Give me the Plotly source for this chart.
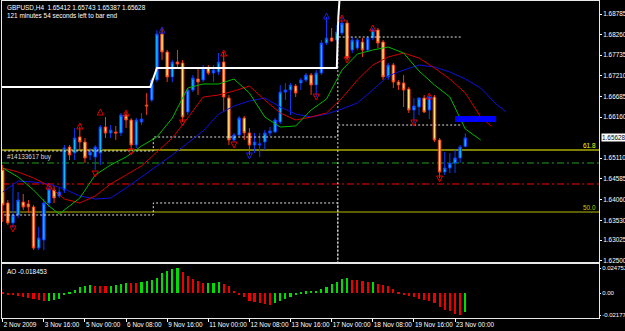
import plotly.graph_objects as go

# ---------------- data ----------------
bar_idx = list(range(91))
opens = [1.64810,1.63970,1.63460,1.63664,1.63995,1.63944,1.63868,1.62823,1.63027,1.63970,
         1.64301,1.64148,1.64301,1.65396,1.65244,1.65651,1.65524,1.65193,1.65142,1.65244,
         1.65906,1.65753,1.65779,1.65753,1.66212,1.66084,1.65447,1.66033,1.66467,1.66594,
         1.67104,1.68276,1.67817,1.67180,1.67562,1.67537,1.66288,1.66849,1.67129,1.67104,
         1.67409,1.67282,1.67307,1.67562,1.66645,1.65575,1.65702,1.66135,1.65753,1.65447,
         1.65447,1.65524,1.65753,1.65779,1.66033,1.66798,1.66849,1.66951,1.67027,1.67104,
         1.67231,1.66976,1.67282,1.68046,1.68174,1.68123,1.68301,1.68556,1.67868,1.67919,
         1.68072,1.67868,1.68174,1.68378,1.68072,1.67180,1.67486,1.67053,1.67027,1.66874,
         1.66339,1.66416,1.66645,1.66339,1.66670,1.65575,1.64759,1.64861,1.64989,1.65116,
         1.65412]
highs = [1.64938,1.64046,1.64428,1.64250,1.64199,1.64046,1.63919,1.63358,1.64071,1.64403,
         1.64403,1.64352,1.65447,1.65447,1.65881,1.65906,1.65626,1.65371,1.65447,1.65957,
         1.66161,1.65957,1.65932,1.66263,1.66288,1.66135,1.66135,1.66263,1.66772,1.67155,
         1.68378,1.68429,1.67868,1.67613,1.67868,1.67613,1.66900,1.67231,1.67435,1.67486,
         1.67486,1.67486,1.67792,1.67817,1.66721,1.65753,1.66186,1.66186,1.65881,1.65753,
         1.65753,1.65830,1.65906,1.66135,1.66976,1.67027,1.67027,1.67002,1.67155,1.67282,
         1.67282,1.67358,1.68123,1.68709,1.68429,1.68505,1.68709,1.68632,1.68199,1.68174,
         1.68174,1.68225,1.68429,1.68429,1.68123,1.67537,1.67537,1.67104,1.67231,1.66925,
         1.66645,1.66670,1.66721,1.66721,1.66721,1.65626,1.65269,1.65244,1.65320,1.65447,
         1.65743]
lows = [1.63485,1.63409,1.63333,1.63587,1.63791,1.63715,1.62772,1.62772,1.62772,1.63868,
        1.63970,1.64097,1.64224,1.65065,1.65065,1.65320,1.64989,1.65065,1.64810,1.64938,
        1.65626,1.65626,1.65575,1.65677,1.65881,1.65320,1.65371,1.65957,1.66212,1.66543,
        1.67053,1.67613,1.67053,1.67053,1.67409,1.66033,1.66212,1.66798,1.66721,1.67053,
        1.67231,1.67053,1.67231,1.66288,1.65447,1.65524,1.65677,1.65575,1.65193,1.65244,
        1.65142,1.65320,1.65677,1.65753,1.65982,1.66594,1.66212,1.66670,1.66849,1.67053,
        1.66721,1.66670,1.67231,1.67995,1.68072,1.68072,1.68250,1.67613,1.67792,1.67868,
        1.67690,1.67817,1.68123,1.67919,1.67104,1.67104,1.66900,1.66849,1.66416,1.66263,
        1.66008,1.66212,1.66263,1.66110,1.65524,1.64607,1.64683,1.64734,1.64734,1.64989,
        1.65387]
closes = [1.63919,1.63460,1.63664,1.64046,1.63868,1.63868,1.62823,1.63078,1.63970,1.64326,
          1.64097,1.64250,1.65371,1.65193,1.65626,1.65524,1.65116,1.65269,1.65396,1.65906,
          1.65753,1.65830,1.65753,1.66212,1.66084,1.65447,1.66084,1.66110,1.66441,1.67104,
          1.68276,1.67817,1.67180,1.67562,1.67511,1.66161,1.66849,1.67155,1.67053,1.67409,
          1.67282,1.67358,1.67562,1.66670,1.65575,1.65702,1.66135,1.65753,1.65447,1.65524,
          1.65473,1.65753,1.65804,1.66084,1.66798,1.66849,1.66976,1.66772,1.67104,1.67231,
          1.66976,1.67282,1.68046,1.68174,1.68097,1.68327,1.68556,1.67664,1.68123,1.68123,
          1.67868,1.68174,1.68378,1.68046,1.67180,1.67486,1.67053,1.66976,1.66849,1.66339,
          1.66441,1.66645,1.66288,1.66670,1.65575,1.64759,1.64861,1.64989,1.65116,1.65396,
          1.65628]

# Alligator-style moving averages (sampled)
lips_idx = [0,3,6,9,11,15,18,21,24,27,30,33,36,39,42,45,48,51,54,57,60,63,66,69,72,75,78,81,84,87,90,93]
lips = [1.64861,1.64632,1.64301,1.63893,1.63689,1.64097,1.64683,1.64938,1.65142,1.65422,
        1.65651,1.66135,1.66900,1.67002,1.67002,1.67129,1.66772,1.66161,1.65906,1.65932,
        1.66339,1.66619,1.67358,1.67766,1.67868,1.67944,1.67792,1.67333,1.66976,1.66670,
        1.65855,1.65575]
teeth_idx = [0,3,6,9,12,15,18,21,24,27,30,33,36,39,42,45,48,51,54,57,60,63,66,69,72,75,78,81,84,87,90,93,95]
teeth = [1.64861,1.64759,1.64607,1.64403,1.64071,1.63970,1.64148,1.64454,1.64683,1.64912,
         1.65269,1.65626,1.66135,1.66670,1.66721,1.66823,1.66951,1.66594,1.66263,1.66084,
         1.66161,1.66263,1.66645,1.67104,1.67486,1.67690,1.67792,1.67664,1.67409,1.67129,
         1.66772,1.66161,1.65932]
jaw_idx = [0,3,6,9,12,15,18,21,24,27,30,33,36,39,42,45,48,51,54,57,60,63,66,69,72,75,78,81,84,87,90,93,96,98]
jaw = [1.64250,1.64530,1.64505,1.64454,1.64326,1.64148,1.64071,1.64097,1.64352,1.64632,
       1.64912,1.65193,1.65498,1.65804,1.66237,1.66441,1.66569,1.66645,1.66416,1.66237,
       1.66161,1.66237,1.66365,1.66518,1.66849,1.67206,1.67358,1.67486,1.67435,1.67307,
       1.67129,1.66900,1.66492,1.66288]

# stepped channel levels (white dotted)
lvl_mid_idx = [-0.5, 29.3, 65.2, 89.4]
lvl_mid = [1.65295, 1.65651, 1.65957, 1.65957]
lvl_low_idx = [-0.5, 29.3, 65.2]
lvl_low = [1.63664, 1.63970, 1.61800]
lvl_top_idx = [65.2, 89.4]
lvl_top = [1.61800, 1.68199]
# white solid range line
rng_idx = [-0.5, 28.7, 30.0, 65.0, 65.3, 65.6]
rng = [1.66925, 1.66925, 1.67409, 1.67409, 1.68709, 1.69300]
# blue marker bar
mark_idx = [88.0, 96.0]
mark = [1.66110, 1.66110]

fib_618 = 1.65320
fib_500 = 1.63740
order_buy = 1.64989
red_level = 1.64454
current_price = 1.65628

# fractal arrows
up_red_idx = [9, 15, 19, 24, 43, 66, 72, 83]
up_red = [1.64479, 1.66008, 1.66365, 1.66339, 1.67868, 1.68760, 1.68505, 1.66772]
up_blue_idx = [31, 63]
up_blue = [1.68454, 1.68811]
dn_red_idx = [2, 18, 25, 35, 45, 61, 67, 80, 85]
dn_red = [1.63231, 1.64632, 1.65193, 1.65932, 1.65371, 1.66594, 1.67537, 1.65932, 1.64505]
dn_blue_idx = [48]
dn_blue = [1.65091]

ao = [0.0012,-0.0012,-0.0018,-0.0025,-0.0040,-0.0050,-0.0056,-0.0071,-0.0081,-0.0078,
      -0.0065,-0.0056,-0.0019,0.0016,0.0037,0.0059,0.0074,0.0081,0.0074,0.0071,
      0.0068,0.0074,0.0084,0.0090,0.0105,0.0102,0.0100,0.0115,0.0121,0.0130,
      0.0155,0.0198,0.0223,0.0236,0.024752,0.0208,0.0170,0.0146,0.0124,0.0100,
      0.0103,0.0106,0.0108,0.0093,0.0068,0.0022,-0.0016,-0.0040,-0.0081,-0.0087,
      -0.0093,-0.0102,-0.0112,-0.0096,-0.0081,-0.0056,-0.0034,-0.0019,0.0012,0.0018,
      0.0024,0.0027,0.0047,0.0062,0.0093,0.0115,0.0140,0.0149,0.0133,0.0130,
      0.0121,0.0109,0.0115,0.0093,0.0084,0.0068,0.0040,0.0016,-0.0009,-0.0025,
      -0.0040,-0.0053,-0.0062,-0.0078,-0.0093,-0.0140,-0.0164,-0.0177,-0.0202,-0.02177,
      -0.018453]

x_tick_idx = [0, 8, 16, 24, 32, 40, 48, 56, 64, 72, 80, 88]
x_tick_text = ["2 Nov 2009", "3 Nov 16:00", "5 Nov 00:00", "6 Nov 08:00", "9 Nov 16:00",
               "11 Nov 00:00", "12 Nov 08:00", "13 Nov 16:00", "17 Nov 00:00",
               "18 Nov 08:00", "19 Nov 16:00", "23 Nov 00:00"]
price_tick_text = ["1.68785", "1.68260", "1.67735", "1.67210", "1.66685", "1.66160",
                   "1.65110", "1.64585", "1.64060", "1.63530", "1.63025", "1.62500"]
ao_tick_text = ["0.024752", "0.00", "-0.02177"]
ao_tick_vals = [0.024752, 0.0, -0.02177]

# ---------------- styling ----------------
FONT = "Liberation Sans"
FS = 6.4
W, H = 625, 331
ML, MR, MT, MB = 2, 26, 1, 13
plot_h = H - MT - MB
main_bottom_px = 262
ao_top_px = 264
main_dom = [(H - MB - main_bottom_px) / plot_h, 1.0]
ao_dom = [0.0, (H - MB - ao_top_px) / plot_h]

fig = go.Figure()

def line(xs, ys, color, width=1, dash=None, shape="linear", axis=("x", "y")):
    fig.add_trace(go.Scatter(x=xs, y=ys, mode="lines", line=dict(color=color, width=width, dash=dash, shape=shape),
                             xaxis=axis[0], yaxis=axis[1], hoverinfo="skip", showlegend=False))

# horizontal levels
for lvl, col, dash in [(fib_618, "#FFFF00", None), (fib_500, "#B8B800", None),
                       (order_buy, "#1FA01F", "7px,3px,2px,3px"), (red_level, "#FF0000", "7px,3px,2px,3px")]:
    fig.add_shape(type="line", xref="x domain", yref="y", x0=0, x1=1, y0=lvl, y1=lvl,
                  line=dict(color=col, width=1, dash=dash), layer="below")

# dotted stepped levels
line(lvl_mid_idx, lvl_mid, "#E0E0E0", 1, "2px,2px", "hv")
line(lvl_low_idx, lvl_low, "#E0E0E0", 1, "2px,2px", "hv")
line(lvl_top_idx, lvl_top, "#E0E0E0", 1, "2px,2px", "vh")
# white range line
line(rng_idx, rng, "#FFFFFF", 2)
# moving averages
line(jaw_idx, jaw, "#1010D8", 1)
line(teeth_idx, teeth, "#D00000", 1)
line(lips_idx, lips, "#00B800", 1)
# blue marker
line(mark_idx, mark, "#0000FF", 6)

fig.add_trace(go.Candlestick(
    x=bar_idx, open=opens, high=highs, low=lows, close=closes,
    increasing=dict(line=dict(color="#0A3CFF", width=1), fillcolor="#10B8FF"),
    decreasing=dict(line=dict(color="#F03A10", width=1), fillcolor="#FFE27A"),
    whiskerwidth=0, xaxis="x", yaxis="y", hoverinfo="skip", showlegend=False))

def arrows(xs, ys, symbol, color):
    fig.add_trace(go.Scatter(x=xs, y=ys, mode="markers",
                             marker=dict(symbol=symbol, size=6, color=color, line=dict(color=color, width=1)),
                             xaxis="x", yaxis="y", hoverinfo="skip", showlegend=False))

arrows(up_red_idx, up_red, "arrow-up-open", "#E00000")
arrows(up_blue_idx, up_blue, "arrow-up-open", "#2020E0")
arrows(dn_red_idx, dn_red, "arrow-down-open", "#E00000")
arrows(dn_blue_idx, dn_blue, "arrow-down-open", "#2020E0")

# AO histogram
ao_colors = ["#EE0000"] + ["#00DD00" if ao[i] > ao[i - 1] else "#EE0000" for i in range(1, len(ao))]
fig.add_trace(go.Bar(x=bar_idx, y=ao, marker=dict(color=ao_colors, line=dict(width=0)), width=0.42,
                     xaxis="x2", yaxis="y2", hoverinfo="skip", showlegend=False))

x_range = [(0 - 0.7) / 5.14, (597 - 0.7) / 5.14]
main_range = [1.62466, 1.69117]
ao_range = [-0.0245, 0.0290]

axis_common = dict(showgrid=False, zeroline=False, showline=True, linecolor="#E8E8E8", linewidth=1,
                   mirror=True, automargin=False)
tickfont = dict(family=FONT, size=FS, color="#FFFFFF")
aofont = dict(family=FONT, size=6.0, color="#FFFFFF")

fig.update_layout(
    width=W, height=H, margin=dict(l=ML, r=MR, t=MT, b=MB, autoexpand=False),
    paper_bgcolor="#000000", plot_bgcolor="#000000",
    showlegend=False, hovermode=False, bargap=0,
    xaxis=dict(range=x_range, domain=[0, 1], anchor="y", showticklabels=False, ticks="",
               rangeslider=dict(visible=False), **axis_common),
    yaxis=dict(range=main_range, domain=main_dom, anchor="x", side="right",
               tickvals=[float(t) for t in price_tick_text], ticktext=price_tick_text,
               ticks="outside", ticklen=2, tickcolor="#FFFFFF", tickfont=tickfont, **axis_common),
    xaxis2=dict(range=x_range, domain=[0, 1], anchor="y2", matches="x",
                tickvals=x_tick_idx, ticktext=x_tick_text, ticks="outside", ticklen=3,
                tickcolor="#FFFFFF", tickfont=tickfont, ticklabelposition="outside right",
                tickangle=0, **axis_common),
    yaxis2=dict(range=ao_range, domain=ao_dom, anchor="x2", side="right",
                tickvals=ao_tick_vals, ticktext=ao_tick_text, ticks="outside", ticklen=1,
                tickcolor="#FFFFFF", tickfont=aofont, **axis_common),
)

ann_font = dict(family=FONT, size=FS, color="#FFFFFF")
fig.add_annotation(xref="paper", yref="paper", x=0, y=1, xanchor="left", yanchor="top", xshift=3, yshift=-1,
                   text="GBPUSD,H4\u00a0\u00a01.65412 1.65743 1.65387 1.65628", showarrow=False, font=ann_font)
fig.add_annotation(xref="paper", yref="paper", x=0, y=1, xanchor="left", yanchor="top", xshift=3, yshift=-9,
                   text="121 minutes 54 seconds left to bar end", showarrow=False, font=ann_font)
fig.add_annotation(xref="x domain", yref="y2 domain", x=0, y=1, xanchor="left", yanchor="top", xshift=3, yshift=-2,
                   text="AO -0.018453", showarrow=False, font=ann_font)
fig.add_annotation(xref="x domain", yref="y", x=0, y=order_buy, xanchor="left", yanchor="bottom", xshift=3, yshift=0,
                   text="#14133617 buy", showarrow=False, font=dict(family=FONT, size=FS, color="#D8D8D8"))
fig.add_annotation(xref="x domain", yref="y", x=1, y=fib_618, xanchor="right", yanchor="bottom", xshift=-1, yshift=-1,
                   text="61.8", showarrow=False, font=dict(family=FONT, size=FS, color="#FFFF00"))
fig.add_annotation(xref="x domain", yref="y", x=1, y=fib_500, xanchor="right", yanchor="bottom", xshift=-1, yshift=-1,
                   text="50.0", showarrow=False, font=dict(family=FONT, size=FS, color="#C8C800"))
fig.add_annotation(xref="paper", yref="y", x=1, y=current_price, xanchor="left", yanchor="middle", xshift=2,
                   text="1.65628", showarrow=False, bgcolor="#FFFFFF", borderpad=0,
                   font=dict(family=FONT, size=FS, color="#000000"))

fig.write_html("out.html")
